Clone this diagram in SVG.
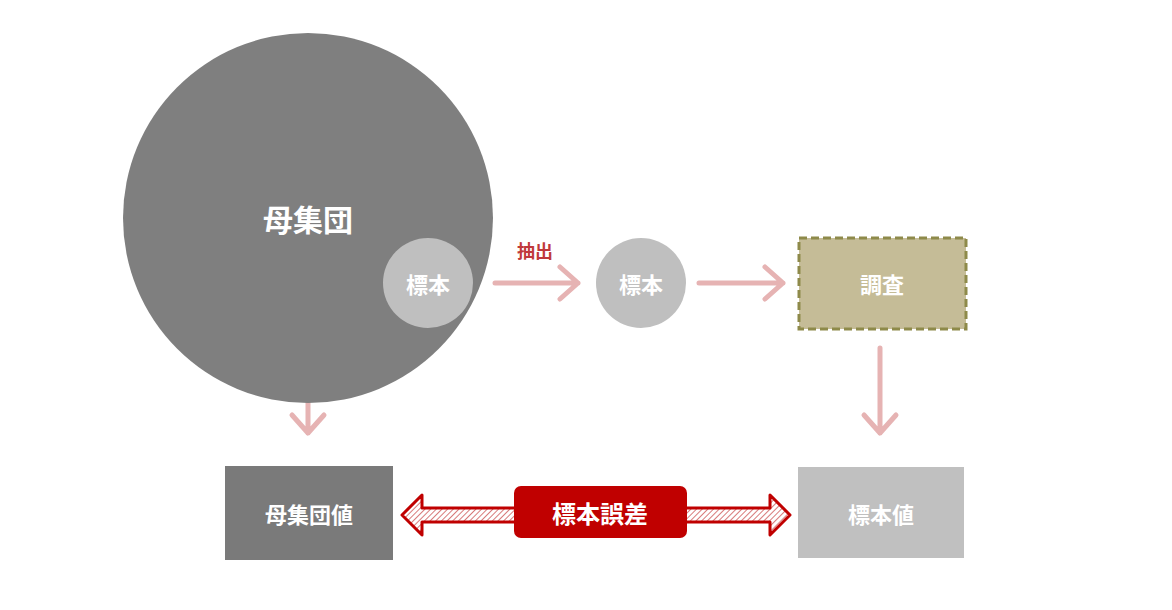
<svg xmlns="http://www.w3.org/2000/svg" width="1172" height="610" viewBox="0 0 1172 610">
<style>
text{font-family:"Noto Sans CJK JP",sans-serif;font-weight:bold;fill:#fff;text-anchor:middle;dominant-baseline:central}
.ar{stroke:#e6b3b3;stroke-width:5;fill:none;stroke-linecap:round;stroke-linejoin:round}
</style>
<defs>
<pattern id="h" width="4" height="4" patternUnits="userSpaceOnUse" patternTransform="rotate(45)">
<rect width="4" height="4" fill="#fff"/><line x1="0" y1="0" x2="0" y2="4" stroke="#d87a7a" stroke-width="2"/>
</pattern>
</defs>
<rect width="1172" height="610" fill="#fff"/>
<g id="connectors">
<path class="ar" d="M495 283H578M560 267L578 283L560 299"/>
<path class="ar" d="M699 283H783M765 267L783 283L765 299"/>
<path class="ar" d="M308 348V433M292 415L308 433L324 415"/>
<path class="ar" d="M880 348V433M864 415L880 433L896 415"/>
<path d="M402 515L422 495V508H770V495L790 515L770 535V522H422V535Z" fill="url(#h)" stroke="#c00000" stroke-width="3" stroke-linejoin="round"/>
<text x="535" y="250" style="fill:#c0393b;font-size:18px">抽出</text>
</g>
<g id="population"><circle cx="308" cy="218" r="185" fill="#7f7f7f"/><text x="308" y="218" font-size="30">母集団</text></g>
<g id="sample1"><circle cx="428" cy="283" r="45" fill="#bfbfbf"/><text x="428" y="283" font-size="22">標本</text></g>
<g id="sample2"><circle cx="641" cy="283" r="45" fill="#bfbfbf"/><text x="641" y="283" font-size="22">標本</text></g>
<g id="survey"><rect x="799" y="238" width="167" height="91" fill="#c5bc97" stroke="#8e8a4a" stroke-width="3" stroke-dasharray="8 4"/><text x="882" y="283" font-size="22">調査</text></g>
<g id="popvalue"><rect x="225" y="466" width="168" height="94" fill="#7a7a7a"/><text x="309" y="513" font-size="22">母集団値</text></g>
<g id="samplevalue"><rect x="798" y="467" width="166" height="91" fill="#c0c0c0"/><text x="881" y="513" font-size="22">標本値</text></g>
<g id="error"><rect x="514" y="486" width="173" height="52" rx="7" fill="#c00000"/><text x="600" y="512" font-size="24">標本誤差</text></g>
</svg>
